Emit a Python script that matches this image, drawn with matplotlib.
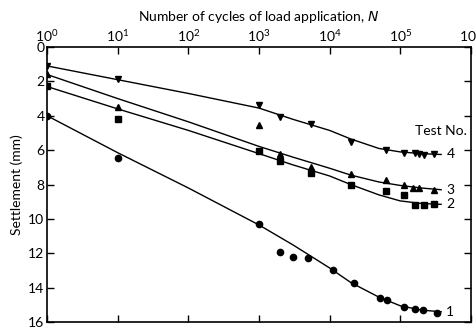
import matplotlib
matplotlib.use("Agg")
import matplotlib.pyplot as plt

plt.rcParams['font.family'] = ['Lato', 'DejaVu Sans']
plt.rcParams['mathtext.default'] = 'regular'

# measured points (N, settlement in mm) per test
n_test1 = [1, 10, 1000, 2000, 3000, 5000, 11000, 22000, 52000, 65000, 115000, 164000, 209000, 330000]
s_test1 = [4.0, 6.45, 10.3, 11.9, 12.2, 12.3, 12.95, 13.75, 14.6, 14.7, 15.15, 15.25, 15.3, 15.45]

n_test2 = [1, 10, 1000, 2000, 5500, 20000, 62000, 115000, 160000, 215000, 300000]
s_test2 = [2.25, 4.2, 6.05, 6.6, 7.35, 8.0, 8.4, 8.6, 9.2, 9.2, 9.15]

n_test3 = [1, 10, 1000, 2000, 5500, 20000, 62000, 115000, 150000, 185000, 300000]
s_test3 = [1.55, 3.5, 4.55, 6.2, 7.0, 7.4, 7.75, 8.05, 8.2, 8.2, 8.3]

n_test4 = [1, 10, 1000, 2000, 5500, 20000, 62000, 115000, 160000, 185000, 215000, 300000]
s_test4 = [1.1, 1.85, 3.4, 4.05, 4.45, 5.55, 6.0, 6.15, 6.15, 6.2, 6.3, 6.25]

# hand-drawn trend curves, read at a few N values
n_curve = [1, 10, 100, 1000, 3000, 10000, 20000, 50000, 100000, 200000, 380000]
c_test1 = [4.0, 6.15, 8.2, 10.35, 11.5, 12.85, 13.7, 14.55, 15.05, 15.3, 15.4]
c_test2 = [2.3, 3.6, 4.85, 6.2, 6.85, 7.5, 8.0, 8.6, 8.95, 9.1, 9.15]
c_test3 = [1.6, 3.0, 4.35, 5.78, 6.4, 7.05, 7.45, 7.85, 8.05, 8.2, 8.3]
c_test4 = [1.1, 1.9, 2.7, 3.55, 4.2, 4.85, 5.35, 5.9, 6.1, 6.2, 6.25]

test_labels = ['1', '2', '3', '4']
y_ticks = [0, 2, 4, 6, 8, 10, 12, 14, 16]
x_ticks = [1, 10, 100, 1000, 10000, 100000, 1000000]
x_tick_labels = ['$10^0$', '$10^1$', '$10^2$', '$10^3$', '$10^4$', '$10^5$', '$10^6$']

fig = plt.figure(figsize=(4.77, 3.29), dpi=100)
ax = fig.add_axes([0.099, 0.021, 0.888, 0.836])

curves = [c_test1, c_test2, c_test3, c_test4]
for c in curves:
    ax.plot(n_curve, c, color='black', lw=1.0, zorder=2)

ax.plot(n_test1, s_test1, 'o', color='black', ms=4.5, zorder=3)
ax.plot(n_test2, s_test2, 's', color='black', ms=4.5, zorder=3)
ax.plot(n_test3, s_test3, '^', color='black', ms=5, zorder=3)
ax.plot(n_test4, s_test4, 'v', color='black', ms=5, zorder=3)

# curve numbers at the right end
for lab, c in zip(test_labels, curves):
    ax.text(450000, c[-1], lab, fontsize=10, va='center', ha='left')
ax.text(160000, 4.9, 'Test No.', fontsize=10, va='center', ha='left')

ax.set_xscale('log')
ax.set_xlim(1, 1e6)
ax.set_ylim(16, 0)
ax.set_xticks(x_ticks)
ax.set_xticklabels(x_tick_labels)
ax.minorticks_off()
ax.set_yticks(y_ticks)
ax.xaxis.set_ticks_position('both')
ax.xaxis.set_label_position('top')
ax.yaxis.set_ticks_position('both')
ax.tick_params(axis='x', which='both', direction='in', labeltop=True, labelbottom=False,
               length=5, width=1, labelsize=10, pad=2)
ax.tick_params(axis='y', direction='in', length=5, width=1, labelsize=10, pad=2)
ax.set_xlabel('Number of cycles of load application, $\\it{N}$', fontsize=10, labelpad=5)
ax.set_ylabel('Settlement (mm)', fontsize=10, labelpad=4)
for sp in ax.spines.values():
    sp.set_linewidth(1.2)

fig.savefig('out.png', dpi=100)
